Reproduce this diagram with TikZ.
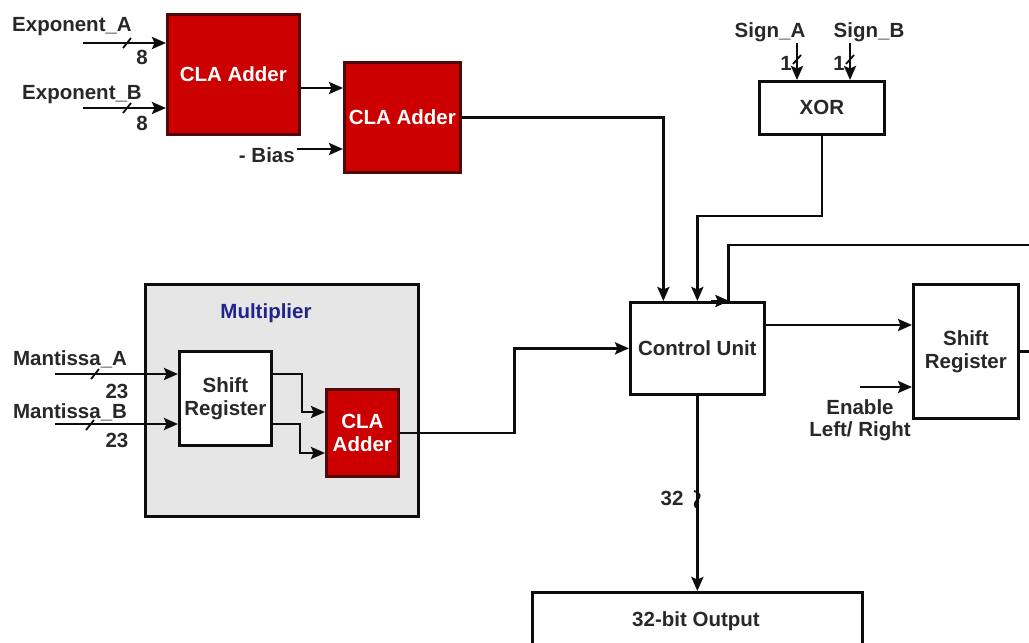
\documentclass[tikz,border=0pt]{standalone}
\usepackage{fontspec}
\setmainfont{Liberation Sans}
\usetikzlibrary{arrows.meta,calc}
\definecolor{clared}{RGB}{204,0,0}
\definecolor{claedge}{RGB}{80,10,10}
\definecolor{txt}{RGB}{40,40,40}
\definecolor{multgray}{RGB}{230,230,230}
\definecolor{multblue}{RGB}{35,35,140}
\tikzset{
  wire/.style={line width=2.7pt,draw=black!95},
  arr/.style={wire,-{Stealth[length=14pt,width=12pt,inset=2.5pt]}},
  tick/.style={line width=1.8pt,draw=black!95},
  blk/.style={draw=black!95,line width=2.7pt,fill=white,anchor=north west,inner sep=0pt,
     text=txt,font=\fontsize{20.5}{23}\selectfont\bfseries,align=center},
  redblk/.style={blk,fill=clared,draw=claedge,text=white},
  lbl/.style={text=txt,font=\fontsize{20.5}{23}\selectfont\bfseries,inner sep=0pt}
}
\begin{document}
\begin{tikzpicture}[x=1pt,y=-1pt]
\useasboundingbox (0,0) rectangle (1029,643);
% blocks
\node[redblk,minimum width=132pt,minimum height=120pt] (cla1) at (166,13) {CLA Adder};
\node[redblk,minimum width=116pt,minimum height=110pt] (cla2) at (343,61) {CLA Adder};
\node[blk,minimum width=125pt,minimum height=53pt] (xor) at (758,80) {XOR};
\node[blk,minimum width=134pt,minimum height=92pt] (cu) at (629,301) {Control Unit};
\node[blk,minimum width=105pt,minimum height=134pt] (sr2) at (912,283) {Shift\\Register};
\node[blk,minimum width=330pt,minimum height=80pt] (out) at (531,591) {};
\node[lbl] (outl) at (696,621) {32-bit Output};
\node[blk,fill=multgray,minimum width=273pt,minimum height=232pt] (mult) at (144,283) {};
\node[lbl,text=multblue] (multl) at (266,313) {Multiplier};
\node[blk,minimum width=92pt,minimum height=94pt] (sr1) at (178,350) {Shift\\Register};
\node[redblk,minimum width=72pt,minimum height=87pt] (cla3) at (325,388) {CLA\\Adder};
% labels
\node[lbl] (ea) at (72,27) {Exponent\_A};
\node[lbl] (eb) at (82,95) {Exponent\_B};
\node[lbl] (n8a) at (142,57) {8};
\node[lbl] (n8b) at (142,123) {8};
\node[lbl,anchor=east] (bias) at (295,155) {- Bias};
\node[lbl] (sa) at (770,32) {Sign\_A};
\node[lbl] (sb) at (869,32) {Sign\_B};
\node[lbl] (n1a) at (786,63) {1};
\node[lbl] (n1b) at (839,63) {1};
\node[lbl] (ma) at (70,359) {Mantissa\_A};
\node[lbl] (mb) at (70,412) {Mantissa\_B};
\node[lbl] (n23a) at (117,391) {23};
\node[lbl] (n23b) at (117,440) {23};
\node[lbl] (en) at (860,407) {Enable};
\node[lbl] (lr) at (860,431) {Left/ Right};
\node[lbl] (n32) at (672,498) {32};
% helper coordinates
\coordinate (pea) at (83,43);
\coordinate (peb) at (83,108);
\coordinate (y88) at (0,88);
\coordinate (pbias) at (297,149);
\coordinate (psa) at (797,43);
\coordinate (psb) at (850,43);
\coordinate (pma) at (55,374);
\coordinate (pmb) at (55,424);
\coordinate (k1) at (302,412);
\coordinate (k2) at (300,453);
\coordinate (y325) at (0,325);
\coordinate (pen) at (860,387);
% connectors
\draw[arr] (pea) -- (pea -| cla1.west);
\draw[arr] (peb) -- (peb -| cla1.west);
\draw[arr] (cla1.east |- y88) -- (cla2.west |- y88);
\draw[arr] (pbias) -- (pbias -| cla2.west);
\draw[arr] (cla2.east) -| ([xshift=-34pt]cu.north);
\draw[arr] (psa) -- (psa |- xor.north);
\draw[arr] (psb) -- (psb |- xor.north);
\draw[arr] (xor.south) |- ([yshift=85pt]cu.north) -- (cu.north);
\draw[wire] (sr2.east) -- ++(25,0) |- ([xshift=31pt,yshift=56pt]cu.north) -- ([xshift=31pt]cu.north);
\draw[arr] ([xshift=14pt]cu.north) -- ([xshift=32pt]cu.north);
\draw[arr] (cu.east |- y325) -- (sr2.west |- y325);
\draw[arr] (pen) -- (pen -| sr2.west);
\draw[arr] (cu.south) -- (out.north);
\draw[arr] (pma) -- (pma -| sr1.west);
\draw[arr] (pmb) -- (pmb -| sr1.west);
\draw[arr] (sr1.east |- pma) -| (k1) -- (k1 -| cla3.west);
\draw[arr] (sr1.east |- pmb) -| (k2) -- (k2 -| cla3.west);
\draw[arr] (cla3.east) -- ++(115,0) |- (cu.west);
% bus ticks
\draw[tick] (123,48) -- (131,38);
\draw[tick] (123,113) -- (131,103);
\draw[tick] (91,379) -- (99,369);
\draw[tick] (86,430) -- (94,420);
\draw[tick] (793,64) -- (801,55);
\draw[tick] (846,64) -- (854,55);
\draw[tick] (694,491) .. controls (701,493) and (701,497) .. (697,500) .. controls (694,503) and (694,506) .. (697,508);
\end{tikzpicture}
\end{document}
